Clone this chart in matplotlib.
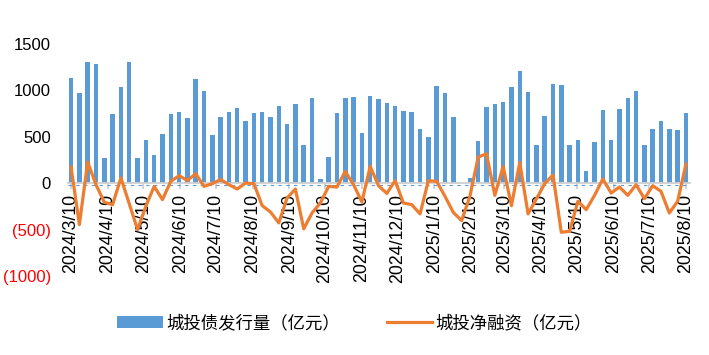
import numpy as np
import pandas as pd
import matplotlib
matplotlib.use("Agg")
from matplotlib import pyplot as plt
import matplotlib.transforms as mtransforms

plt.rcParams['font.family'] = ['Liberation Sans', 'Noto Sans CJK SC', 'DejaVu Sans']

# weekly data, 2024/3/10 .. 2025/8/10
weeks = pd.date_range("2024-03-10", "2025-08-10", freq="7D")

issuance = [1137, 970, 1310, 1285, 271, 744, 1041, 1310, 271, 468,
            299, 529, 744, 765, 700, 1120, 991, 518, 711, 772,
            815, 675, 754, 765, 718, 836, 643, 851, 417, 923,
            41, 282, 754, 923, 933, 536, 944, 912, 862, 836,
            783, 765, 582, 503, 1052, 976, 708, 0, 56, 450,
            826, 851, 873, 1041, 1213, 987, 407, 729, 1073, 1055,
            407, 464, 131, 443, 794, 464, 804, 923, 998, 417,
            579, 665, 589, 571, 754]

net_financing = [174, -446, 228, -16, -206, -231, 56, -220, -500, -249,
                 -34, -177, 20, 81, 30, 102, -34, -5, 40, -16,
                 -63, 2, -5, -242, -310, -428, -159, -63, -492, -321,
                 -213, -34, -41, 127, -16, -202, 181, -27, -110, 27,
                 -213, -231, -331, 27, 20, -141, -314, -403, -141, 282,
                 317, -131, 181, -242, 224, -331, -170, -5, 88, -529,
                 -518, -195, -285, -131, 45, -106, -41, -131, -16, -167,
                 -27, -88, -321, -195, 205]

month_ticks = pd.date_range("2024-03-01", "2025-08-01", freq="MS") + pd.Timedelta(days=9)
month_labels = [f"{d.year}/{d.month}/{d.day}" for d in month_ticks]

y_ticks = [-1000, -500, 0, 500, 1000, 1500]

blue = '#5B9BD5'
orange = '#ED7D31'

fig = plt.figure(figsize=(7.09, 3.55), dpi=100)
ax = fig.add_axes([67.5 / 709, 1 - 276 / 355, 622 / 709, 232 / 355])

bars = ax.bar(weeks, issuance, width=3.8, color=blue, zorder=2)
line, = ax.plot(weeks, net_financing, color=orange, lw=2.3, zorder=4)

ax.set_xlim(pd.Timestamp("2024-03-07"), pd.Timestamp("2025-08-13"))
ax.set_ylim(-1000, 1500)

# x axis sits on zero
for s in ['top', 'right', 'left']:
    ax.spines[s].set_visible(False)
ax.spines['bottom'].set_position(('data', 0))
ax.spines['bottom'].set_color('#d0d0d0')
ax.spines['bottom'].set_linewidth(1.3)
ax.spines['bottom'].set_zorder(3)

# thin dashed blue line just under the axis
off = mtransforms.offset_copy(ax.transData, fig=fig, x=0, y=-1.8, units='dots')
ax.plot(ax.get_xlim(), [0, 0], color=blue, lw=0.8, ls=(0, (3, 4)), transform=off, zorder=3)

ax.set_xticks(month_ticks)
ax.set_xticklabels(month_labels, rotation=90, fontsize=12.8)
ax.tick_params(axis='x', length=4, width=1.3, color='#d0d0d0', pad=4)

ax.set_yticks(y_ticks)
ax.set_yticklabels([f"({-v})" if v < 0 else str(v) for v in y_ticks], fontsize=12)
for lbl, v in zip(ax.get_yticklabels(), y_ticks):
    if v < 0:
        lbl.set_color('red')
ax.tick_params(axis='y', length=0, pad=12)

fig.legend([bars, line], ['城投债发行量（亿元）', '城投净融资（亿元）'],
           loc='center', bbox_to_anchor=(0.5, 1 - 323 / 355), ncol=2, frameon=False,
           fontsize=12.5, handlelength=2.6, handletextpad=0.2, columnspacing=2.7)

plt.savefig('out.png', dpi=100)
